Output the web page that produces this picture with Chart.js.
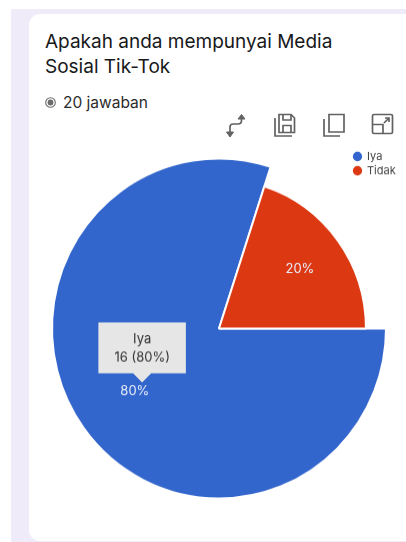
<!DOCTYPE html>
<html lang="id">
<head>
  <meta charset="UTF-8">
  <title>Apakah anda mempunyai Media Sosial Tik-Tok</title>
  <style>
    html, body { margin: 0; height: 100%; background: #fff; overflow: hidden; }
    body { width: 406px; height: 542px; position: relative; font-family: Inter, Roboto, sans-serif; }
    .backdrop { position: absolute; left: 11px; top: 9px; right: 0; bottom: 0; background: #f0ebf8; }
    .card { position: absolute; left: 29px; top: 14px; width: 390px; height: 527px; background: #fff; border-radius: 11px; }
    .title { position: absolute; left: 45px; top: 29px; width: 350px; font-size: 19px; line-height: 25px; color: #17181a; }
    .count { position: absolute; left: 63px; top: 93px; font-size: 15.5px; line-height: 20px; color: #2b2b2b; }
    .radio { position: absolute; left: 45px; top: 97px; }
    .tools { position: absolute; left: 0; top: 0; }
    /* pie is a touch taller than wide */
    #chartBox { position: absolute; left: 29px; top: 150px; width: 380px; height: 360px; transform: scaleY(1.018); transform-origin: 50% 178.5px; }
  </style>
</head>
<body>
  <div class="backdrop"></div>
  <div class="card"></div>
  <div class="title">Apakah anda mempunyai Media<br>Sosial Tik-Tok</div>
  <svg class="radio" width="11" height="11" viewBox="0 0 11 11">
    <circle cx="5.5" cy="5.5" r="4.8" fill="none" stroke="#6b6b6b" stroke-width="1.1"/>
    <circle cx="5.5" cy="5.5" r="2.9" fill="#6b6b6b"/>
  </svg>
  <div class="count" id="count"></div>

  <!-- toolbar icons -->
  <svg class="tools" width="406" height="150" fill="none" stroke="#626262" stroke-width="1.7">
    <path d="M230 133v-6q0-3 3-3h5q3.500 0 3.500-3.500v-3"/>
    <path d="M226.500 132h7l-3.500 5zM238 119h7l-3.500-4.500z" fill="#626262" stroke-width="1"/>
    <path d="M279 114.500h12l3.500 3.500v14.500h-15.500z"/>
    <path d="M283 114.500v5.500h8v-5.500M283 132.500v-7h8v7M275 118v18h17"/>
    <path d="M329 114.500h15v17.500h-15zM324 119v17h16"/>
    <rect x="372.500" y="114.500" width="20" height="19" rx="1.500"/>
    <path d="M372.500 124.500h10.500v9.500M384 123l4.500-4.500M385 118h4v4"/>
  </svg>

  <div id="chartBox"><canvas id="pie"></canvas></div>

  <script src="https://cdn.jsdelivr.net/npm/chart.js"></script>
  <script>
    const categories = ['Iya', 'Tidak'];
    const answers = [16, 4];
    const sliceColors = ['#3366cc', '#dc3912'];
    const sliceScale = [1, 0.88];
    const labelRadius = [104, 100];
    const total = answers.reduce((a, b) => a + b, 0);
    const pct = v => Math.round(v / total * 100) + '%';

    document.getElementById('count').textContent = total + ' jawaban';

    // Tooltip sits just above the big slice's percentage label
    Chart.Tooltip.positioners.sliceLabel = function () {
      const arc = this.chart.getDatasetMeta(0).data[0];
      const mid = (arc.startAngle + arc.endAngle) / 2;
      return { x: arc.x + Math.cos(mid) * 95, y: arc.y + Math.sin(mid) * 95 - 6 };
    };

    const sliceTweaks = {
      id: 'sliceTweaks',
      // slices have their own radius, legend goes in the top right corner
      afterDatasetsUpdate(chart) {
        chart.getDatasetMeta(0).data.forEach((arc, i) => {
          arc.outerRadius = arc.outerRadius * sliceScale[i];
        });
      },
      afterLayout(chart) {
        const legend = chart.legend;
        legend.left = 321.5;
        legend.right = chart.width;
        legend.top = 1;
        legend.bottom = 40;
      },
      afterDatasetsDraw(chart) {
        const ctx = chart.ctx;
        ctx.save();
        ctx.font = '13px Inter';
        ctx.fillStyle = '#e8eefb';
        ctx.textAlign = 'center';
        ctx.textBaseline = 'middle';
        chart.getDatasetMeta(0).data.forEach((arc, i) => {
          const mid = (arc.startAngle + arc.endAngle) / 2;
          ctx.fillText(pct(answers[i]), arc.x + Math.cos(mid) * labelRadius[i], arc.y + Math.sin(mid) * labelRadius[i]);
        });
        ctx.restore();
      }
    };

    const chart = new Chart(document.getElementById('pie'), {
      type: 'pie',
      data: {
        labels: categories,
        datasets: [{
          data: answers,
          backgroundColor: sliceColors,
          borderColor: '#fff',
          borderWidth: 2,
          hoverOffset: 0
        }]
      },
      options: {
        responsive: true,
        maintainAspectRatio: false,
        animation: false,
        rotation: 90,
        layout: { padding: { top: 10, bottom: 13, left: 22, right: 22 } },
        plugins: {
          legend: {
            position: 'chartArea',
            align: 'start',
            labels: {
              usePointStyle: true,
              pointStyle: 'circle',
              boxWidth: 8,
              boxHeight: 8,
              padding: 3,
              color: '#444',
              font: { family: 'Inter', size: 11 }
            }
          },
          tooltip: {
            enabled: true,
            position: 'sliceLabel',
            xAlign: 'center',
            yAlign: 'bottom',
            backgroundColor: '#e6e6e6',
            titleColor: '#333',
            bodyColor: '#333',
            titleFont: { family: 'Inter', size: 13, weight: 'normal' },
            bodyFont: { family: 'Inter', size: 13 },
            titleAlign: 'center',
            bodyAlign: 'center',
            titleMarginBottom: 2,
            displayColors: false,
            cornerRadius: 0,
            caretSize: 9,
            caretPadding: 0,
            padding: { top: 9, bottom: 8, left: 16, right: 16 },
            callbacks: {
              title: items => items[0].label,
              label: item => item.raw + ' (' + pct(item.raw) + ')'
            }
          }
        }
      },
      plugins: [sliceTweaks]
    });

    chart.tooltip.setActiveElements([{ datasetIndex: 0, index: 0 }], { x: 0, y: 0 });
    chart.update();
  </script>
</body>
</html>
